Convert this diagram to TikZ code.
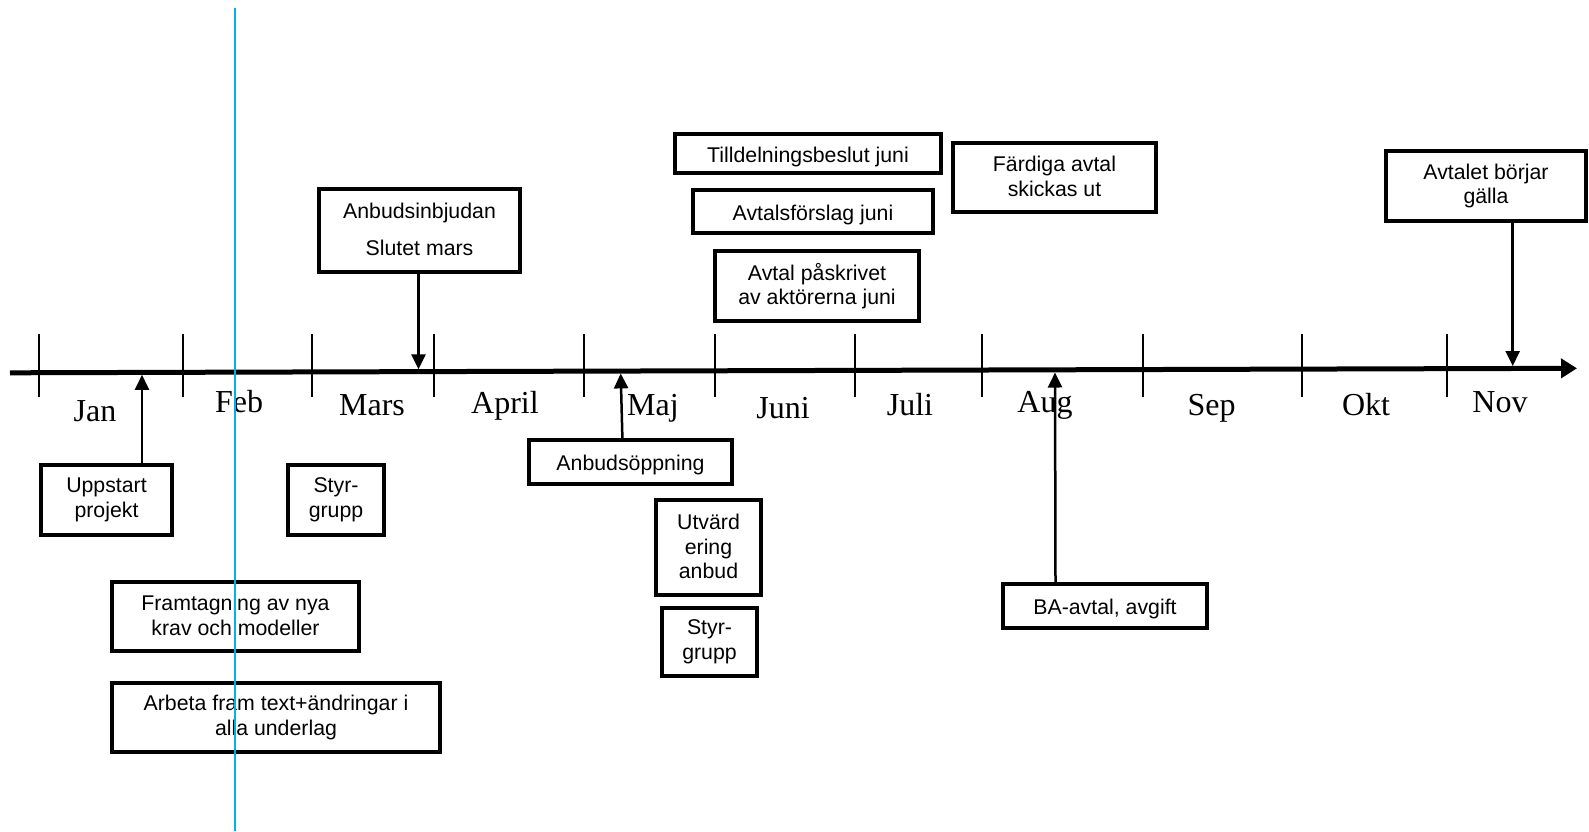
\documentclass[tikz,border=0pt]{standalone}
\usepackage{fontspec}
\setmainfont{Liberation Sans}
\newfontfamily\serifm{Liberation Serif}
\usetikzlibrary{arrows.meta}
\newcommand\boxfont{\fontsize{21.3}{24.5}\selectfont\lineskiplimit=-100pt\relax}
\newcommand\monthfont{\serifm\fontsize{32}{36}\selectfont}
\newcommand\bstrut{\rule[-2pt]{0pt}{24pt}}
\definecolor{bluemark}{RGB}{0,176,240}
\tikzset{
  box/.style={draw, fill=white, line width=3.5pt, inner sep=0pt, align=center,
    font=\boxfont, execute at begin node=\bstrut, execute at end node=\bstrut},
  month/.style={font=\monthfont, anchor=base, inner sep=0pt},
  conn/.style={line width=2.5pt, -{Triangle[length=15pt,width=14pt]}},
  timeline/.style={line width=5pt, -{Triangle[length=16pt,width=19pt]}},
  tickmark/.style={line width=2pt},
  blueline/.style={draw=bluemark, line width=2.2pt}
}
\begin{document}
\begin{tikzpicture}[x=1pt,y=-1pt]
\useasboundingbox (0,0) rectangle (1589,831);

% timeline
\coordinate (tlstart) at (10,372.8);
\coordinate (tlend) at (1577,368.3);
\foreach \tx in {39,183,312,434,584,715,855,982,1143,1302,1447}
  \draw[tickmark] (\tx,334) -- (\tx,397);
\draw[timeline] (tlstart) -- (tlend);

% month labels
\node[month] (mJan) at (95,421.7) {Jan};
\node[month] (mFeb) at (239,412.7) {Feb};
\node[month] (mMars) at (372,415) {Mars};
\node[month] (mApril) at (505,413.3) {April};
\node[month] (mMaj) at (653,415) {Maj};
\node[month] (mJuni) at (783,418.3) {Juni};
\node[month] (mJuli) at (910,415) {Juli};
\node[month] (mAug) at (1045,412.7) {Aug};
\node[month] (mSep) at (1211.5,415) {Sep};
\node[month] (mOkt) at (1366,415) {Okt};
\node[month] (mNov) at (1500,412.7) {Nov};

% boxes
\node[box, minimum width=266pt, minimum height=39pt] (tilldel) at (808,153.5) {Tilldelningsbeslut juni};
\node[box, minimum width=240pt, minimum height=43pt] (avtforsl) at (813,211.5) {Avtalsförslag juni};
\node[box, minimum width=204pt, minimum height=70pt] (paskr) at (817,286) {Avtal påskrivet\\av aktörerna juni};
\node[box, minimum width=203pt, minimum height=69pt] (fardiga) at (1054.5,177.5) {Färdiga avtal\\skickas ut};
\node[box, minimum width=200pt, minimum height=70pt] (avtalet) at (1486,186) {Avtalet börjar\\gälla};
\node[box, minimum width=201pt, minimum height=83pt] (anbinbj) at (419.5,230.5) {Anbudsinbjudan\\[12.5pt]Slutet mars};
\node[box, minimum width=131pt, minimum height=70pt] (uppstart) at (106.5,500) {Uppstart\\projekt};
\node[box, minimum width=96pt, minimum height=70pt] (styr1) at (336,500) {Styr-\\grupp};
\node[box, minimum width=247pt, minimum height=69pt] (framt) at (235.5,616.5) {Framtagning av nya\\krav och modeller};
\node[box, minimum width=328pt, minimum height=69pt] (arbeta) at (276,717.5) {Arbeta fram text+ändringar i\\alla underlag};
\node[box, minimum width=203pt, minimum height=44pt] (anbopp) at (630.5,462) {Anbudsöppning};
\node[box, minimum width=105pt, minimum height=95pt] (utv) at (708.5,547.5) {Utvärd\\ering\\anbud};
\node[box, minimum width=95pt, minimum height=68pt] (styr2) at (709.5,642) {Styr-\\grupp};
\node[box, minimum width=204pt, minimum height=44pt] (ba) at (1105,606) {BA-avtal, avgift};

% connectors
\coordinate (tipJan) at (142,374.8);
\coordinate (tipMars) at (418.5,369.3);
\coordinate (tipMaj) at (620.7,373.4);
\coordinate (tipAug) at (1055,372.5);
\coordinate (tipNov) at (1512.7,366);
\draw[conn] (uppstart.north -| tipJan) -- (tipJan);
\draw[conn] (anbinbj.south -| tipMars) -- (tipMars);
\draw[conn] ([xshift=-8.1pt]anbopp.north) -- (tipMaj);
\draw[conn] ([xshift=-49.5pt]ba.north) -- (tipAug);
\draw[conn] (avtalet.south -| tipNov) -- (tipNov);

% blue marker line
\coordinate (bl1) at (235,8);
\coordinate (bl2) at (235,831);
\draw[blueline] (bl1) -- (bl2);
\end{tikzpicture}
\end{document}
